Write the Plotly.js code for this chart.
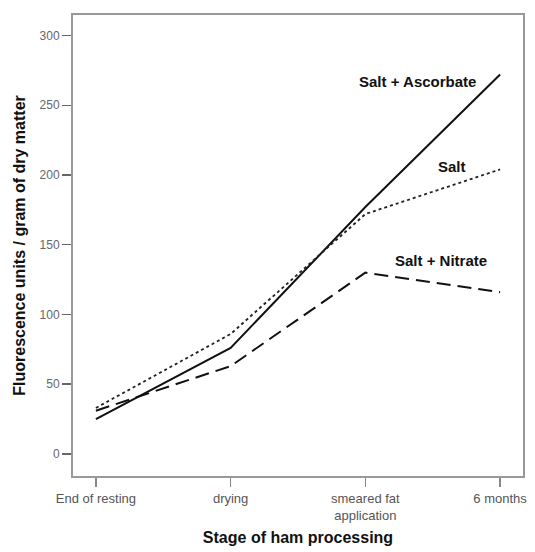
<!DOCTYPE html>
<html>
<head>
<meta charset="utf-8">
<script src="https://cdn.plot.ly/plotly-3.0.1.min.js"></script>
<style>html,body{margin:0;padding:0;background:#fff;}#chart{width:535px;height:552px;}</style>
</head>
<body>
<div id="chart"></div>
<script>
const stages = ["End of resting", "drying", "smeared fat<br>application", "6 months"];
const saltAscorbate = [25, 76, 177, 272];
const salt = [33, 86, 172, 204];
const saltNitrate = [31, 63, 130, 116];
const seriesLabels = ["Salt + Ascorbate", "Salt", "Salt + Nitrate"];
const yTicks = [0, 50, 100, 150, 200, 250, 300];

const traces = [
  {x: stages, y: saltAscorbate, name: seriesLabels[0], mode: "lines",
   line: {color: "#111", width: 2, dash: "solid"}},
  {x: stages, y: salt, name: seriesLabels[1], mode: "lines",
   line: {color: "#222", width: 1.8, dash: "3px,3px"}},
  {x: stages, y: saltNitrate, name: seriesLabels[2], mode: "lines",
   line: {color: "#111", width: 2, dash: "14px,7px"}}
];

const annFont = {family: "Liberation Sans, Arial, sans-serif", size: 15, color: "#111"};
const layout = {
  width: 535, height: 552,
  margin: {l: 73, r: 12, t: 15, b: 76},
  paper_bgcolor: "#fff", plot_bgcolor: "#fff",
  showlegend: false,
  font: {family: "Liberation Sans, Arial, sans-serif"},
  xaxis: {
    type: "category", range: [-0.17, 3.17],
    showline: true, mirror: true, linecolor: "#999", linewidth: 2,
    showgrid: false, zeroline: false,
    ticks: "outside", ticklen: 9, tickcolor: "#888", tickwidth: 1.5,
    tickfont: {size: 13, color: "#555"},
    title: {text: "<b>Stage of ham processing</b>", font: {size: 16, color: "#111"}, standoff: 10}
  },
  yaxis: {
    range: [-15.8, 314.7],
    tickvals: yTicks, ticktext: yTicks.map(String),
    showline: true, mirror: true, linecolor: "#999", linewidth: 2,
    showgrid: false, zeroline: false,
    ticks: "outside", ticklen: 9, tickcolor: "#666", tickwidth: 1.5,
    tickfont: {size: 12, color: "#666"},
    title: {text: "<b>Fluorescence units / gram of dry matter</b>", font: {size: 16, color: "#111"}, standoff: 10}
  },
  annotations: [
    {x: 2.39, y: 267, xref: "x", yref: "y", text: "<b>" + seriesLabels[0] + "</b>", showarrow: false, font: annFont},
    {x: 2.64, y: 206, xref: "x", yref: "y", text: "<b>" + seriesLabels[1] + "</b>", showarrow: false, font: annFont},
    {x: 2.56, y: 139, xref: "x", yref: "y", text: "<b>" + seriesLabels[2] + "</b>", showarrow: false, font: annFont}
  ]
};
Plotly.newPlot("chart", traces, layout, {staticPlot: true, displayModeBar: false});
</script>
</body>
</html>
